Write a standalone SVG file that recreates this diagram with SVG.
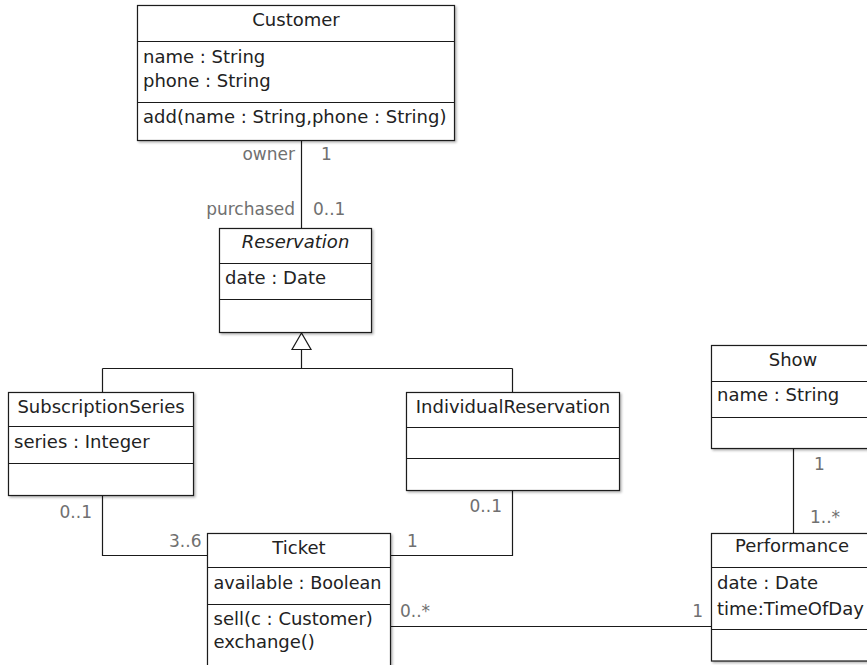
<svg xmlns="http://www.w3.org/2000/svg" width="867" height="665" viewBox="0 0 867 665">
<defs>
<filter id="sh" x="-5%" y="-5%" width="115%" height="115%">
<feDropShadow dx="1.5" dy="1.5" stdDeviation="1" flood-color="#000" flood-opacity="0.3"/>
</filter>
<style>
.box{fill:#fff;stroke:#1a1a1a;stroke-width:1.2;filter:url(#sh)}
.div{stroke:#1a1a1a;stroke-width:1.2;fill:none}
.t{font-family:"DejaVu Sans","Noto Sans",sans-serif;font-size:18px;fill:#222}
.c{text-anchor:middle}
.i{font-style:italic}
.lbl{font-family:"DejaVu Sans","Noto Sans",sans-serif;font-size:17px;fill:#707070}
.e{text-anchor:end}
.ln{stroke:#1a1a1a;stroke-width:1.2;fill:none}
</style>
</defs>
<rect width="867" height="665" fill="#fff"/>

<g id="connectors">
<path class="ln" d="M301.5,140.5 V228.5"/>
<polygon points="301.5,333 292,349.5 311,349.5" fill="#fff" stroke="#1a1a1a" stroke-width="1.2"/>
<path class="ln" d="M301.5,349.5 V368.5 M102.5,368.5 H512.5 M102.5,368.5 V392.5 M512.5,368.5 V392.5"/>
<path class="ln" d="M102.5,495.5 V555.5 H207.5"/>
<path class="ln" d="M512.5,490.5 V555.5 H390.5"/>
<path class="ln" d="M390.5,626.5 H711.5"/>
<path class="ln" d="M793.5,448.5 V533.5"/>
<text class="lbl e" x="295" y="160">owner</text>
<text class="lbl" x="321" y="160">1</text>
<text class="lbl e" x="295" y="215">purchased</text>
<text class="lbl" x="313" y="215">0..1</text>
<text class="lbl e" x="92" y="518">0..1</text>
<text class="lbl e" x="201.5" y="547">3..6</text>
<text class="lbl e" x="502" y="512">0..1</text>
<text class="lbl" x="407" y="547">1</text>
<text class="lbl" x="400" y="617">0..*</text>
<text class="lbl e" x="703" y="617">1</text>
<text class="lbl" x="814" y="470">1</text>
<text class="lbl" x="810" y="523">1..*</text>
</g>

<g id="Customer">
<rect class="box" x="137.5" y="5.5" width="317" height="135"/>
<path class="div" d="M137.5,41.5 H454.5 M137.5,102.5 H454.5"/>
<text class="t c" x="296" y="26">Customer</text>
<text class="t" x="143" y="63">name : String</text>
<text class="t" x="143" y="87">phone : String</text>
<text class="t" x="143" y="123">add(name : String,phone : String)</text>
</g>

<g id="Reservation">
<rect class="box" x="219.5" y="228.5" width="152" height="104"/>
<path class="div" d="M219.5,263.5 H371.5 M219.5,299.5 H371.5"/>
<text class="t c i" x="295.5" y="248">Reservation</text>
<text class="t" x="225" y="284">date : Date</text>
</g>

<g id="SubscriptionSeries">
<rect class="box" x="8.5" y="392.5" width="185" height="103"/>
<path class="div" d="M8.5,426.5 H193.5 M8.5,463.5 H193.5"/>
<text class="t c" x="101" y="413">SubscriptionSeries</text>
<text class="t" x="14" y="448">series : Integer</text>
</g>

<g id="IndividualReservation">
<rect class="box" x="406.5" y="392.5" width="213" height="98"/>
<path class="div" d="M406.5,427.5 H619.5 M406.5,458.5 H619.5"/>
<text class="t c" x="513" y="413">IndividualReservation</text>
</g>

<g id="Ticket">
<rect class="box" x="207.5" y="533.5" width="183" height="150"/>
<path class="div" d="M207.5,567.5 H390.5 M207.5,604.5 H390.5"/>
<text class="t c" x="299" y="553.5">Ticket</text>
<text class="t" x="213.5" y="589" textLength="168" lengthAdjust="spacingAndGlyphs">available : Boolean</text>
<text class="t" x="213.5" y="625">sell(c : Customer)</text>
<text class="t" x="213.5" y="648">exchange()</text>
</g>

<g id="Show">
<rect class="box" x="711.5" y="345.5" width="170" height="103"/>
<path class="div" d="M711.5,381.5 H881.5 M711.5,417.5 H881.5"/>
<text class="t c" x="793" y="365.5">Show</text>
<text class="t" x="717" y="401">name : String</text>
</g>

<g id="Performance">
<rect class="box" x="711.5" y="533.5" width="170" height="127.5"/>
<path class="div" d="M711.5,567.5 H881.5 M711.5,629.5 H881.5"/>
<text class="t c" x="792" y="552">Performance</text>
<text class="t" x="717" y="588.5">date : Date</text>
<text class="t" x="717" y="614.5">time:TimeOfDay</text>
</g>
</svg>
